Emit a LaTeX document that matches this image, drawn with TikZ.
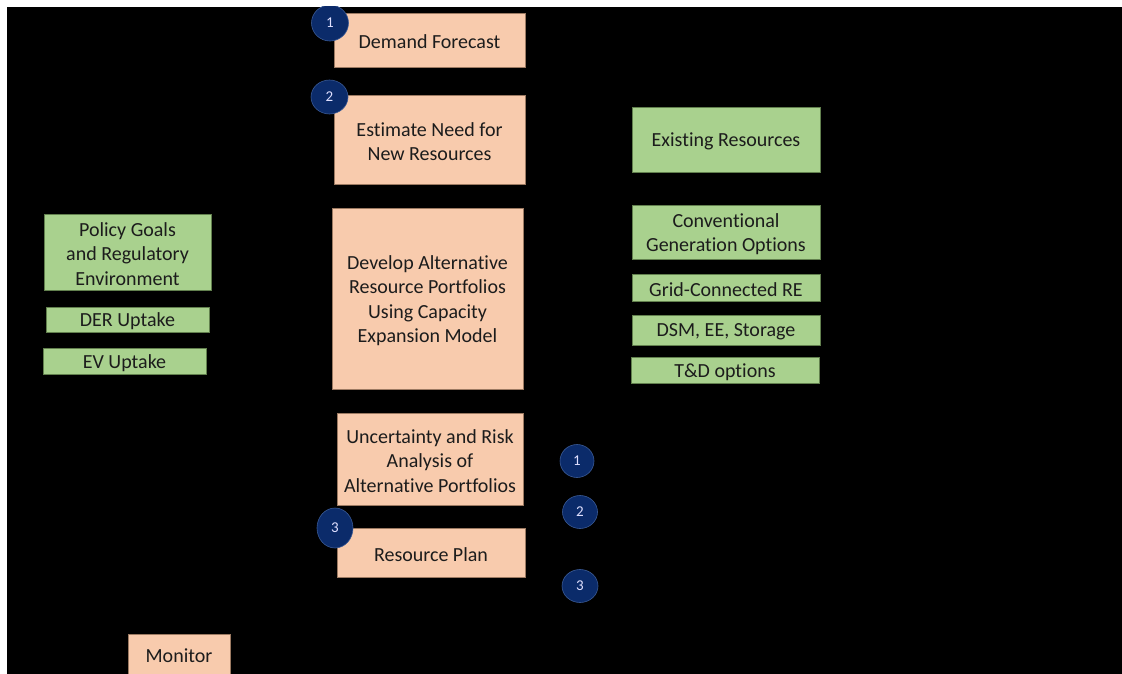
\documentclass[tikz,border=0pt]{standalone}
\usepackage{fontspec}
\setmainfont{Carlito}[Ligatures={NoCommon}]
\usetikzlibrary{shapes.geometric}
\definecolor{peach}{HTML}{F8CBAD}
\definecolor{peachline}{HTML}{9C7A62}
\definecolor{leaf}{HTML}{A9D18E}
\definecolor{leafline}{HTML}{62804E}
\definecolor{navy}{HTML}{0B2B6A}
\definecolor{navyline}{HTML}{3A5A95}
\definecolor{ink}{HTML}{1C1C1C}
\tikzset{
  stepbox/.style={draw=peachline, fill=peach, line width=0.8pt, inner sep=0pt},
  inputbox/.style={draw=leafline, fill=leaf, line width=0.8pt, inner sep=0pt},
  boxtext/.style={inner sep=0pt, align=center, text=ink,
    font=\fontsize{20}{24.4}\selectfont},
  badge/.style={ellipse, draw=navyline, fill=navy, line width=0.6pt, inner sep=0pt,
    text=white!88!blue, font=\fontsize{15}{17}\selectfont}
}
% box from (x1,y1) to (x2,y2), y measured downward, with its caption
\newcommand{\boxat}[7]{%
  \node[#1, minimum width={(#5-#3)*1pt}, minimum height={(#6-#4)*1pt}]
    (#2) at ({(#3+#5)/2},{(#4+#6)/2}) {};
  \node[boxtext] (#2-t) at ([yshift=-2pt]#2.center) {#7};}
\begin{document}
\begin{tikzpicture}[x=1pt, y=-1pt]
  \useasboundingbox (0,0) rectangle (1122,674);
  \fill[white] (0,0) rectangle (1122,674);
  \fill[black] (7,7) rectangle (1122,674);
  \begin{scope}
    \clip (7,7) rectangle (1122,674);

    % planning steps
    \boxat{stepbox}{demand}{334}{13}{525}{67}{Demand Forecast}
    \boxat{stepbox}{need}{334}{95}{525}{184}{Estimate Need for\\New Resources}
    \boxat{stepbox}{develop}{332}{208}{523}{389}{Develop Alternative\\Resource Portfolios\\Using Capacity\\Expansion Model}
    \boxat{stepbox}{risk}{337}{413}{523}{505}{Uncertainty and Risk\\Analysis of\\Alternative Portfolios}
    \boxat{stepbox}{plan}{337}{528}{525}{577}{Resource Plan}
    \node[stepbox, minimum width=102pt, minimum height=44pt] (monitor) at (179,656) {};
    \node[boxtext] (monitor-t) at (179,656) {Monitor};

    % supply-side inputs
    \boxat{inputbox}{existing}{632}{107}{820}{172}{Existing Resources}
    \boxat{inputbox}{conv}{632}{205}{820}{259}{Conventional\\Generation Options}
    \boxat{inputbox}{grid}{632}{274}{820}{301}{Grid-Connected RE}
    \boxat{inputbox}{dsm}{632}{315}{820}{345}{DSM, EE, Storage}
    \boxat{inputbox}{td}{631}{357}{819}{383}{T\&D options}

    % demand-side inputs
    \boxat{inputbox}{policy}{44}{214}{211}{290}{Policy Goals\\and Regulatory\\Environment}
    \boxat{inputbox}{der}{46}{307}{209}{332}{DER Uptake}
    \boxat{inputbox}{ev}{43}{348}{206}{374}{EV Uptake}

    % numbered badges
    \node[badge, minimum width=37pt, minimum height=36pt] (b1) at (330,23) {1};
    \node[badge, minimum width=37pt, minimum height=34pt] (b2) at (329.5,97) {2};
    \node[badge, minimum width=36pt, minimum height=40pt] (b3) at (335,528) {3};
    \node[badge, minimum width=34pt, minimum height=33pt] (k1) at (577,461) {1};
    \node[badge, minimum width=35pt, minimum height=33pt] (k2) at (580,512) {2};
    \node[badge, minimum width=36pt, minimum height=33pt] (k3) at (580,586) {3};
  \end{scope}
\end{tikzpicture}
\end{document}
